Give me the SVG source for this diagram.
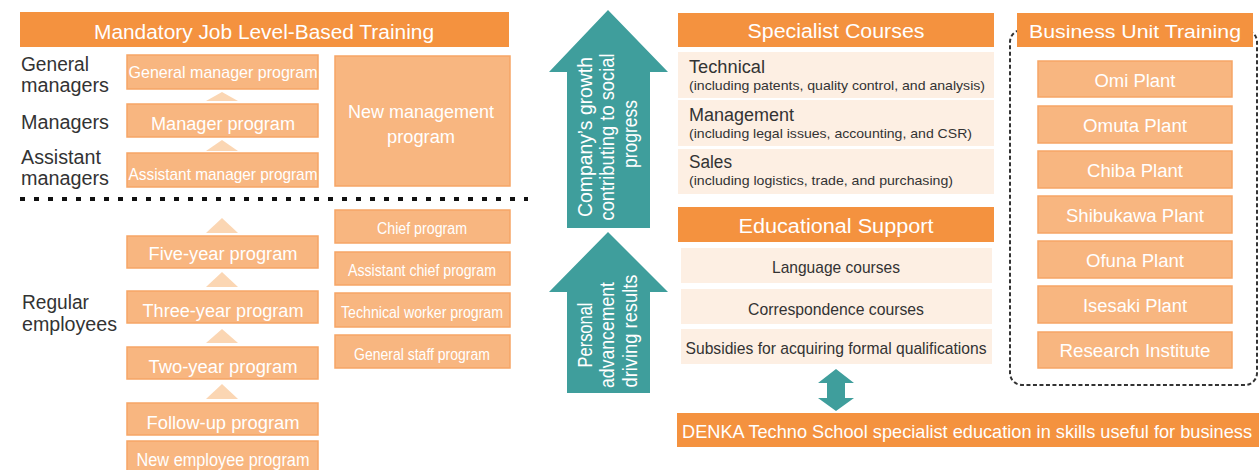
<svg xmlns="http://www.w3.org/2000/svg" width="1259" height="470" viewBox="0 0 1259 470">
<style>
text{font-family:"Liberation Sans",Arial,sans-serif}
.hdr{fill:#F4923F}
.box{fill:#F8B680;stroke:#F6A566;stroke-width:1.5}
.cream{fill:#FDEFE3}
.tri{fill:#FBD6B3}
.teal{fill:#3F9E9C}
.w{fill:#fff;text-anchor:middle}
.ws{fill:#fff}
.d{fill:#333}
.dm{fill:#333;text-anchor:middle}
</style>
<rect width="1259" height="470" fill="#fff"/>

<g id="mandatory-header">
<rect class="hdr" x="20" y="12" width="489" height="35"/>
<text class="w" x="264" y="39" font-size="20" textLength="340" lengthAdjust="spacingAndGlyphs">Mandatory Job Level-Based Training</text>
</g>

<g id="level-labels">
<text class="d" x="21" y="71" font-size="20" textLength="68" lengthAdjust="spacingAndGlyphs">General</text>
<text class="d" x="21" y="92" font-size="20" textLength="88" lengthAdjust="spacingAndGlyphs">managers</text>
<text class="d" x="21" y="129" font-size="20" textLength="88" lengthAdjust="spacingAndGlyphs">Managers</text>
<text class="d" x="21" y="164" font-size="20" textLength="80" lengthAdjust="spacingAndGlyphs">Assistant</text>
<text class="d" x="21" y="185" font-size="20" textLength="88" lengthAdjust="spacingAndGlyphs">managers</text>
<text class="d" x="22" y="309" font-size="20" textLength="67" lengthAdjust="spacingAndGlyphs">Regular</text>
<text class="d" x="22" y="331" font-size="20" textLength="95" lengthAdjust="spacingAndGlyphs">employees</text>
</g>

<g id="general-manager-program">
<rect class="box" x="127" y="55" width="191" height="34"/>
<text class="w" x="223" y="78" font-size="17" textLength="189" lengthAdjust="spacingAndGlyphs">General manager program</text>
</g>
<g id="manager-program">
<rect class="box" x="127" y="104" width="191" height="33"/>
<text class="w" x="223" y="130" font-size="18" textLength="144" lengthAdjust="spacingAndGlyphs">Manager program</text>
</g>
<g id="assistant-manager-program">
<rect class="box" x="127" y="153" width="191" height="34"/>
<text class="w" x="223" y="180" font-size="17" textLength="189" lengthAdjust="spacingAndGlyphs">Assistant manager program</text>
</g>
<g id="new-management-program">
<rect class="box" x="335" y="56" width="175" height="130"/>
<text class="w" x="421" y="118" font-size="18" textLength="146" lengthAdjust="spacingAndGlyphs">New management</text>
<text class="w" x="421" y="143" font-size="18" textLength="68" lengthAdjust="spacingAndGlyphs">program</text>
</g>

<g id="divider">
<line x1="20" y1="199" x2="528" y2="199" stroke="#111" stroke-width="4" stroke-dasharray="5 9"/>
</g>

<g id="five-year-program">
<rect class="box" x="127" y="236" width="191" height="32"/>
<text class="w" x="223" y="260" font-size="18" textLength="149" lengthAdjust="spacingAndGlyphs">Five-year program</text>
</g>
<g id="three-year-program">
<rect class="box" x="127" y="291" width="191" height="32"/>
<text class="w" x="223" y="317" font-size="18" textLength="161" lengthAdjust="spacingAndGlyphs">Three-year program</text>
</g>
<g id="two-year-program">
<rect class="box" x="127" y="347" width="191" height="32"/>
<text class="w" x="223" y="373" font-size="18" textLength="149" lengthAdjust="spacingAndGlyphs">Two-year program</text>
</g>
<g id="follow-up-program">
<rect class="box" x="127" y="403" width="191" height="32"/>
<text class="w" x="223" y="429" font-size="18" textLength="153" lengthAdjust="spacingAndGlyphs">Follow-up program</text>
</g>
<g id="new-employee-program">
<rect class="box" x="127" y="441" width="191" height="36"/>
<text class="w" x="223" y="466" font-size="18" textLength="173" lengthAdjust="spacingAndGlyphs">New employee program</text>
</g>

<g id="chief-program">
<rect class="box" x="335" y="210" width="175" height="33"/>
<text class="w" x="422" y="234" font-size="16" textLength="90" lengthAdjust="spacingAndGlyphs">Chief program</text>
</g>
<g id="assistant-chief-program">
<rect class="box" x="335" y="252" width="175" height="33"/>
<text class="w" x="422" y="276" font-size="16" textLength="148" lengthAdjust="spacingAndGlyphs">Assistant chief program</text>
</g>
<g id="technical-worker-program">
<rect class="box" x="335" y="293" width="175" height="34"/>
<text class="w" x="422" y="318" font-size="16" textLength="162" lengthAdjust="spacingAndGlyphs">Technical worker program</text>
</g>
<g id="general-staff-program">
<rect class="box" x="335" y="335" width="175" height="33"/>
<text class="w" x="422" y="360" font-size="16" textLength="136" lengthAdjust="spacingAndGlyphs">General staff program</text>
</g>

<g id="arrow-company-growth">
<polygon class="teal" points="608,10 668,72 650,72 650,228 567,228 567,72 549,72"/>
<text class="w" transform="translate(592,137) rotate(-90)" font-size="20" textLength="160" lengthAdjust="spacingAndGlyphs">Company’s growth</text>
<text class="w" transform="translate(614,137) rotate(-90)" font-size="20" textLength="167" lengthAdjust="spacingAndGlyphs">contributing to social</text>
<text class="w" transform="translate(637,134) rotate(-90)" font-size="20" textLength="68" lengthAdjust="spacingAndGlyphs">progress</text>
</g>
<g id="arrow-personal-advancement">
<polygon class="teal" points="608,232 668,292 650,292 650,393 567,393 567,292 549,292"/>
<text class="w" transform="translate(592,335) rotate(-90)" font-size="20" textLength="65" lengthAdjust="spacingAndGlyphs">Personal</text>
<text class="w" transform="translate(614,335) rotate(-90)" font-size="20" textLength="106" lengthAdjust="spacingAndGlyphs">advancement</text>
<text class="w" transform="translate(637,331) rotate(-90)" font-size="20" textLength="113" lengthAdjust="spacingAndGlyphs">driving results</text>
</g>

<g id="specialist-courses">
<rect class="hdr" x="678" y="13" width="316" height="34"/>
<text class="w" x="836" y="38" font-size="20" textLength="177" lengthAdjust="spacingAndGlyphs">Specialist Courses</text>
</g>
<g id="technical">
<rect class="cream" x="678" y="52" width="316" height="46"/>
<text class="d" x="689" y="73" font-size="18" textLength="76" lengthAdjust="spacingAndGlyphs">Technical</text>
<text class="d" x="689" y="90" font-size="13" textLength="296" lengthAdjust="spacingAndGlyphs">(including patents, quality control, and analysis)</text>
</g>
<g id="management">
<rect class="cream" x="678" y="100" width="316" height="46"/>
<text class="d" x="689" y="121" font-size="18" textLength="105" lengthAdjust="spacingAndGlyphs">Management</text>
<text class="d" x="689" y="138" font-size="13" textLength="283" lengthAdjust="spacingAndGlyphs">(including legal issues, accounting, and CSR)</text>
</g>
<g id="sales">
<rect class="cream" x="678" y="149" width="316" height="45"/>
<text class="d" x="689" y="168" font-size="18" textLength="43" lengthAdjust="spacingAndGlyphs">Sales</text>
<text class="d" x="689" y="185" font-size="13" textLength="264" lengthAdjust="spacingAndGlyphs">(including logistics, trade, and purchasing)</text>
</g>

<g id="educational-support">
<rect class="hdr" x="678" y="207" width="316" height="35"/>
<text class="w" x="836" y="233" font-size="20" textLength="195" lengthAdjust="spacingAndGlyphs">Educational Support</text>
</g>
<g id="language-courses">
<rect class="cream" x="681" y="248" width="311" height="35"/>
<text class="dm" x="836" y="273" font-size="17" textLength="128" lengthAdjust="spacingAndGlyphs">Language courses</text>
</g>
<g id="correspondence-courses">
<rect class="cream" x="681" y="289" width="311" height="35"/>
<text class="dm" x="836" y="315" font-size="17" textLength="176" lengthAdjust="spacingAndGlyphs">Correspondence courses</text>
</g>
<g id="subsidies">
<rect class="cream" x="681" y="329" width="311" height="35"/>
<text class="dm" x="836" y="354" font-size="17" textLength="301" lengthAdjust="spacingAndGlyphs">Subsidies for acquiring formal qualifications</text>
</g>

<g id="denka-techno-school">
<rect class="hdr" x="677" y="413" width="582" height="34"/>
<text class="ws" x="682" y="438" font-size="19" textLength="570" lengthAdjust="spacingAndGlyphs">DENKA Techno School specialist education in skills useful for business</text>
</g>

<g id="business-unit-training">
<rect x="1010" y="30" width="247" height="355" rx="12" fill="none" stroke="#333" stroke-width="2" stroke-dasharray="4 2.5"/>
<rect class="hdr" x="1017" y="13" width="236" height="34"/>
<text class="w" x="1135" y="38" font-size="19" textLength="212" lengthAdjust="spacingAndGlyphs">Business Unit Training</text>
</g>
<g id="omi-plant">
<rect class="box" x="1038" y="61" width="194" height="36"/>
<text class="w" x="1135" y="87" font-size="18" textLength="81" lengthAdjust="spacingAndGlyphs">Omi Plant</text>
</g>
<g id="omuta-plant">
<rect class="box" x="1038" y="106" width="194" height="37"/>
<text class="w" x="1135" y="132" font-size="18" textLength="104" lengthAdjust="spacingAndGlyphs">Omuta Plant</text>
</g>
<g id="chiba-plant">
<rect class="box" x="1038" y="151" width="194" height="37"/>
<text class="w" x="1135" y="177" font-size="18" textLength="96" lengthAdjust="spacingAndGlyphs">Chiba Plant</text>
</g>
<g id="shibukawa-plant">
<rect class="box" x="1038" y="196" width="194" height="37"/>
<text class="w" x="1135" y="222" font-size="18" textLength="138" lengthAdjust="spacingAndGlyphs">Shibukawa Plant</text>
</g>
<g id="ofuna-plant">
<rect class="box" x="1038" y="241" width="194" height="37"/>
<text class="w" x="1135" y="267" font-size="18" textLength="98" lengthAdjust="spacingAndGlyphs">Ofuna Plant</text>
</g>
<g id="isesaki-plant">
<rect class="box" x="1038" y="286" width="194" height="37"/>
<text class="w" x="1135" y="312" font-size="18" textLength="104" lengthAdjust="spacingAndGlyphs">Isesaki Plant</text>
</g>
<g id="research-institute">
<rect class="box" x="1038" y="332" width="194" height="36"/>
<text class="w" x="1135" y="357" font-size="18" textLength="151" lengthAdjust="spacingAndGlyphs">Research Institute</text>
</g>

<g id="connectors">
<polygon class="tri" points="206,101 222,92 238,101"/>
<polygon class="tri" points="206,151 222,140 238,151"/>
<polygon class="tri" points="206,233 222,218 238,233"/>
<polygon class="tri" points="206,287 222,272 238,287"/>
<polygon class="tri" points="206,343 222,329 238,343"/>
<polygon class="tri" points="206,399 222,384 238,399"/>
<polygon class="teal" points="836,369 854,383 845,383 845,398 854,398 836,411 818,398 827,398 827,383 818,383"/>
</g>
</svg>
